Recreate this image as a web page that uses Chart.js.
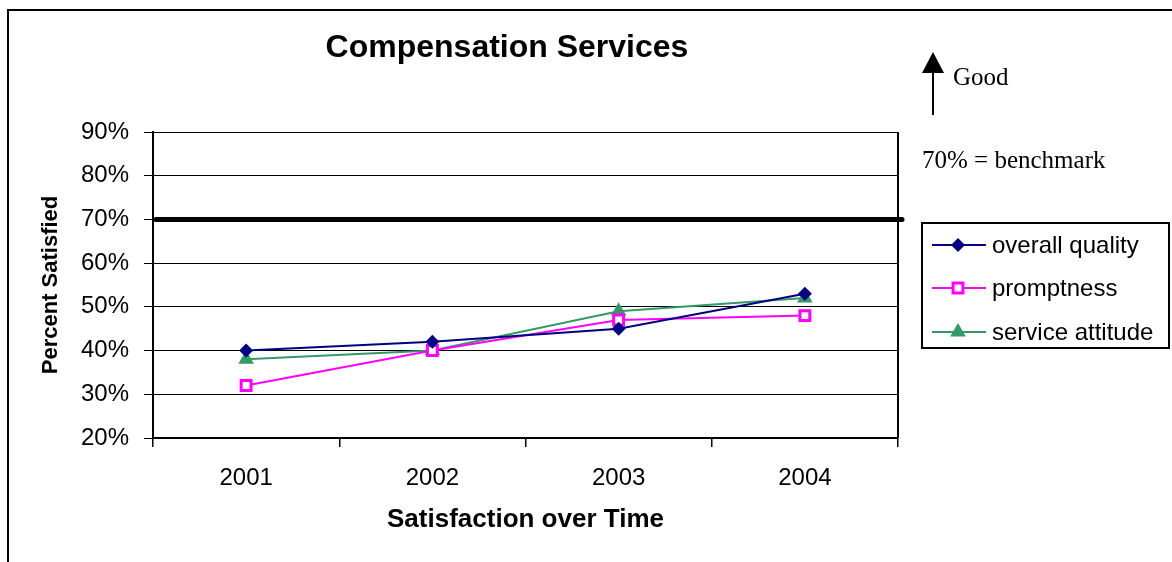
<!DOCTYPE html>
<html lang="en">
<head>
  <meta charset="UTF-8">
  <title>Compensation Services</title>
  <script src="https://cdn.jsdelivr.net/npm/chart.js"></script>
  <style>
    body {
      margin: 0;
      padding: 0;
      background: #ffffff;
    }
    canvas {
      display: block;
    }
  </style>
</head>
<body>

<canvas id="compChart" width="1172" height="562"></canvas>

<script>
  // chart data
  const years = ["2001", "2002", "2003", "2004"];
  const overallQuality = [40, 42, 45, 53];
  const promptness = [32, 40, 47, 48];
  const serviceAttitude = [38, 40, 49, 52];
  const benchmark = 70;

  Chart.defaults.font.family = "'Liberation Sans', Arial, sans-serif";
  Chart.defaults.color = "#000";

  // small marker drawer for the legend box
  function drawMarker(ctx, ds, x, y) {
    const r = ds.pointRadius;
    ctx.save();
    ctx.fillStyle = ds.pointBackgroundColor;
    ctx.strokeStyle = ds.pointBorderColor;
    ctx.lineWidth = ds.pointBorderWidth;
    ctx.beginPath();
    if (ds.pointStyle === "rectRot") {
      ctx.moveTo(x, y - r); ctx.lineTo(x + r, y); ctx.lineTo(x, y + r); ctx.lineTo(x - r, y);
    } else if (ds.pointStyle === "rect") {
      const s = r * Math.SQRT1_2;
      ctx.rect(x - s, y - s, 2 * s, 2 * s);
    } else {
      const h = r * Math.cos(Math.PI / 6);
      ctx.moveTo(x, y - r); ctx.lineTo(x + h, y + r / 2); ctx.lineTo(x - h, y + r / 2);
    }
    ctx.closePath();
    ctx.fill();
    if (ds.pointBorderWidth) ctx.stroke();
    ctx.restore();
  }

  const extras = {
    id: "extras",
    beforeDatasetsDraw(chart) {
      const { ctx, chartArea, scales } = chart;
      ctx.save();
      // right edge of plot area
      ctx.strokeStyle = "#000";
      ctx.lineWidth = 2;
      ctx.beginPath();
      ctx.moveTo(chartArea.right, chartArea.top);
      ctx.lineTo(chartArea.right, chartArea.bottom);
      ctx.stroke();
      // benchmark line
      const yb = scales.y.getPixelForValue(benchmark);
      ctx.lineWidth = 5;
      ctx.lineCap = "round";
      ctx.beginPath();
      ctx.moveTo(chartArea.left + 3, yb);
      ctx.lineTo(chartArea.right + 4, yb);
      ctx.stroke();
      ctx.restore();
    },
    afterDraw(chart) {
      const { ctx } = chart;
      ctx.save();
      // outer frame
      ctx.strokeStyle = "#000";
      ctx.lineWidth = 2;
      ctx.beginPath();
      ctx.moveTo(8, 562);
      ctx.lineTo(8, 10);
      ctx.lineTo(1172, 10);
      ctx.stroke();

      // title
      ctx.fillStyle = "#000";
      ctx.font = "bold 32px 'Liberation Sans', Arial, sans-serif";
      ctx.textAlign = "center";
      ctx.textBaseline = "middle";
      ctx.fillText("Compensation Services", 507, 48);

      // "Good" arrow
      ctx.lineWidth = 2;
      ctx.beginPath();
      ctx.moveTo(933, 115);
      ctx.lineTo(933, 70);
      ctx.stroke();
      ctx.beginPath();
      ctx.moveTo(933, 52);
      ctx.lineTo(944, 73);
      ctx.lineTo(922, 73);
      ctx.closePath();
      ctx.fill();

      ctx.font = "25px 'Liberation Serif', 'Times New Roman', serif";
      ctx.textAlign = "left";
      ctx.fillText("Good", 953, 78);
      ctx.fillText("70% = benchmark", 922, 161);

      // legend box
      ctx.lineWidth = 2;
      ctx.strokeRect(922, 223, 247, 125);
      const rows = [245, 288, 332];
      ctx.font = "24px 'Liberation Sans', Arial, sans-serif";
      chart.data.datasets.forEach((ds, i) => {
        const y = rows[i];
        ctx.strokeStyle = ds.borderColor;
        ctx.lineWidth = 2;
        ctx.beginPath();
        ctx.moveTo(932, y);
        ctx.lineTo(986, y);
        ctx.stroke();
        drawMarker(ctx, ds, 958, y);
        ctx.fillStyle = "#000";
        ctx.fillText(ds.label, 992, y + 1);
      });
      ctx.restore();
    }
  };

  new Chart(document.getElementById("compChart"), {
    type: "line",
    data: {
      labels: years,
      datasets: [
        {
          label: "overall quality",
          data: overallQuality,
          borderColor: "#000080",
          borderWidth: 2,
          pointStyle: "rectRot",
          pointRadius: 7,
          pointBackgroundColor: "#000080",
          pointBorderColor: "#000080",
          pointBorderWidth: 0,
          tension: 0
        },
        {
          label: "promptness",
          data: promptness,
          borderColor: "#FF00FF",
          borderWidth: 2,
          pointStyle: "rect",
          pointRadius: 7,
          pointBackgroundColor: "#ffffff",
          pointBorderColor: "#FF00FF",
          pointBorderWidth: 3,
          tension: 0
        },
        {
          label: "service attitude",
          data: serviceAttitude,
          borderColor: "#339966",
          borderWidth: 2,
          pointStyle: "triangle",
          pointRadius: 9,
          pointBackgroundColor: "#339966",
          pointBorderColor: "#339966",
          pointBorderWidth: 0,
          tension: 0
        }
      ]
    },
    options: {
      responsive: false,
      animation: false,
      layout: {
        padding: { top: 132, right: 274, bottom: 0, left: 0 }
      },
      plugins: {
        legend: { display: false },
        title: { display: false },
        tooltip: { enabled: false }
      },
      scales: {
        x: {
          offset: true,
          afterFit(scale) { scale.height = 124; },
          grid: {
            offset: true,
            drawOnChartArea: false,
            drawTicks: true,
            tickLength: 9,
            color: "#000",
            lineWidth: 1.5
          },
          border: { color: "#000", width: 2 },
          ticks: {
            font: { size: 24 },
            padding: 17,
            maxRotation: 0
          },
          title: {
            display: true,
            text: "Satisfaction over Time",
            font: { size: 26, weight: "bold" },
            padding: { top: 0, bottom: 27 }
          }
        },
        y: {
          min: 20,
          max: 90,
          afterFit(scale) { scale.width = 153; },
          grid: {
            color: "#000",
            lineWidth: 1,
            tickLength: 9
          },
          border: { color: "#000", width: 2 },
          ticks: {
            stepSize: 10,
            font: { size: 24 },
            padding: 15,
            callback: (v) => v + "%"
          },
          title: {
            display: true,
            text: "Percent Satisfied",
            font: { size: 22, weight: "bold" },
            padding: { top: 38, bottom: 0 }
          }
        }
      }
    },
    plugins: [extras]
  });
</script>
</body>
</html>
